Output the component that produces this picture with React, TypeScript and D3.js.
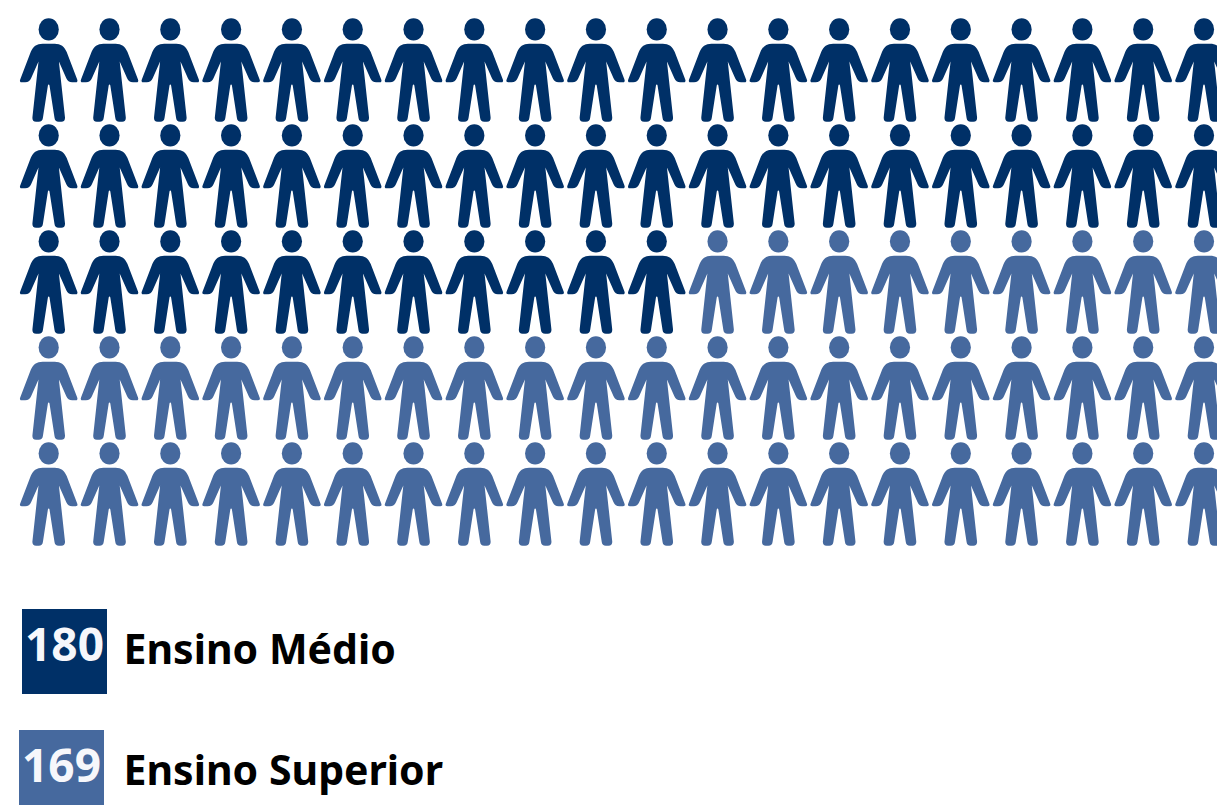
import * as d3 from "d3";
import React from "react";

const categories = ["Ensino Médio", "Ensino Superior"];
const values = [180, 169];
// icons coloured per category (20 x 5 grid)
const iconCounts = [51, 49];
const colors = ["#003067", "#46699e"];

const columns = d3.range(20);
const rows = d3.range(5);

const width = 1217;
const height = 805;

const x = d3.scaleLinear().domain([0, 19]).range([48.7, 1204]);
const y = d3.scaleLinear().domain([0, 4]).range([18, 442]);

const iconColor = d3
  .scaleThreshold<number, string>()
  .domain([iconCounts[0]])
  .range(colors);

// person glyph, origin at the top centre of the head
const body =
  "M-6 25.7 C-12 25.7 -15.8 28.6 -18 34 L-28.5 61.5 C-29.2 63.4 -28.6 64.3 -27 64.3 " +
  "L-23.5 64.3 C-20.5 64.3 -18.8 62.8 -17.6 60.2 L-10.2 43.5 L-16.3 99.5 " +
  "C-16.5 102.2 -15.2 103.8 -12.6 103.8 L-10 103.8 C-7.4 103.8 -6.2 102.6 -5.8 100 L-0.8 67.5 " +
  "C-0.6 66 0.6 66 0.8 67.5 L5.8 100 C6.2 102.6 7.4 103.8 10 103.8 L12.6 103.8 " +
  "C15.2 103.8 16.5 102.2 16.3 99.5 L10.2 43.5 L17.6 60.2 C18.8 62.8 20.5 64.3 23.5 64.3 " +
  "L27 64.3 C28.6 64.3 29.2 63.4 28.5 61.5 L18 34 C15.8 28.6 12 25.7 6 25.7 Z";

const Person = ({ cx, top, fill }: { cx: number; top: number; fill: string }) => (
  <g transform={`translate(${cx},${top})`} fill={fill}>
    <ellipse cx={0} cy={11.4} rx={10.1} ry={11.2} />
    <path d={body} />
  </g>
);

const legendX = [22, 19];
const legendY = d3.scaleLinear().domain([0, 1]).range([609, 730]);
const fontFamily = "'Noto Sans', sans-serif";

export default function App() {
  return (
    <svg
      width={width}
      height={height}
      style={{ position: "absolute", left: 0, top: 0, background: "#fff" }}
    >
      {rows.map((r) =>
        columns.map((c) => (
          <Person
            key={`${r}-${c}`}
            cx={x(c)}
            top={y(r)}
            fill={iconColor(r * columns.length + c)}
          />
        ))
      )}
      {categories.map((name, i) => (
        <g key={name}>
          <rect x={legendX[i]} y={legendY(i)} width={85} height={85} fill={colors[i]} />
          <text
            x={legendX[i] + 42.5}
            y={legendY(i) + 52}
            textAnchor="middle"
            fontFamily={fontFamily}
            fontWeight={700}
            fontSize={46}
            fill="#f6f7fb"
          >
            {values[i]}
          </text>
          <text
            x={123.5}
            y={legendY(i) + 55}
            fontFamily={fontFamily}
            fontWeight={700}
            fontSize={41}
            fill="#000"
          >
            {name}
          </text>
        </g>
      ))}
    </svg>
  );
}
